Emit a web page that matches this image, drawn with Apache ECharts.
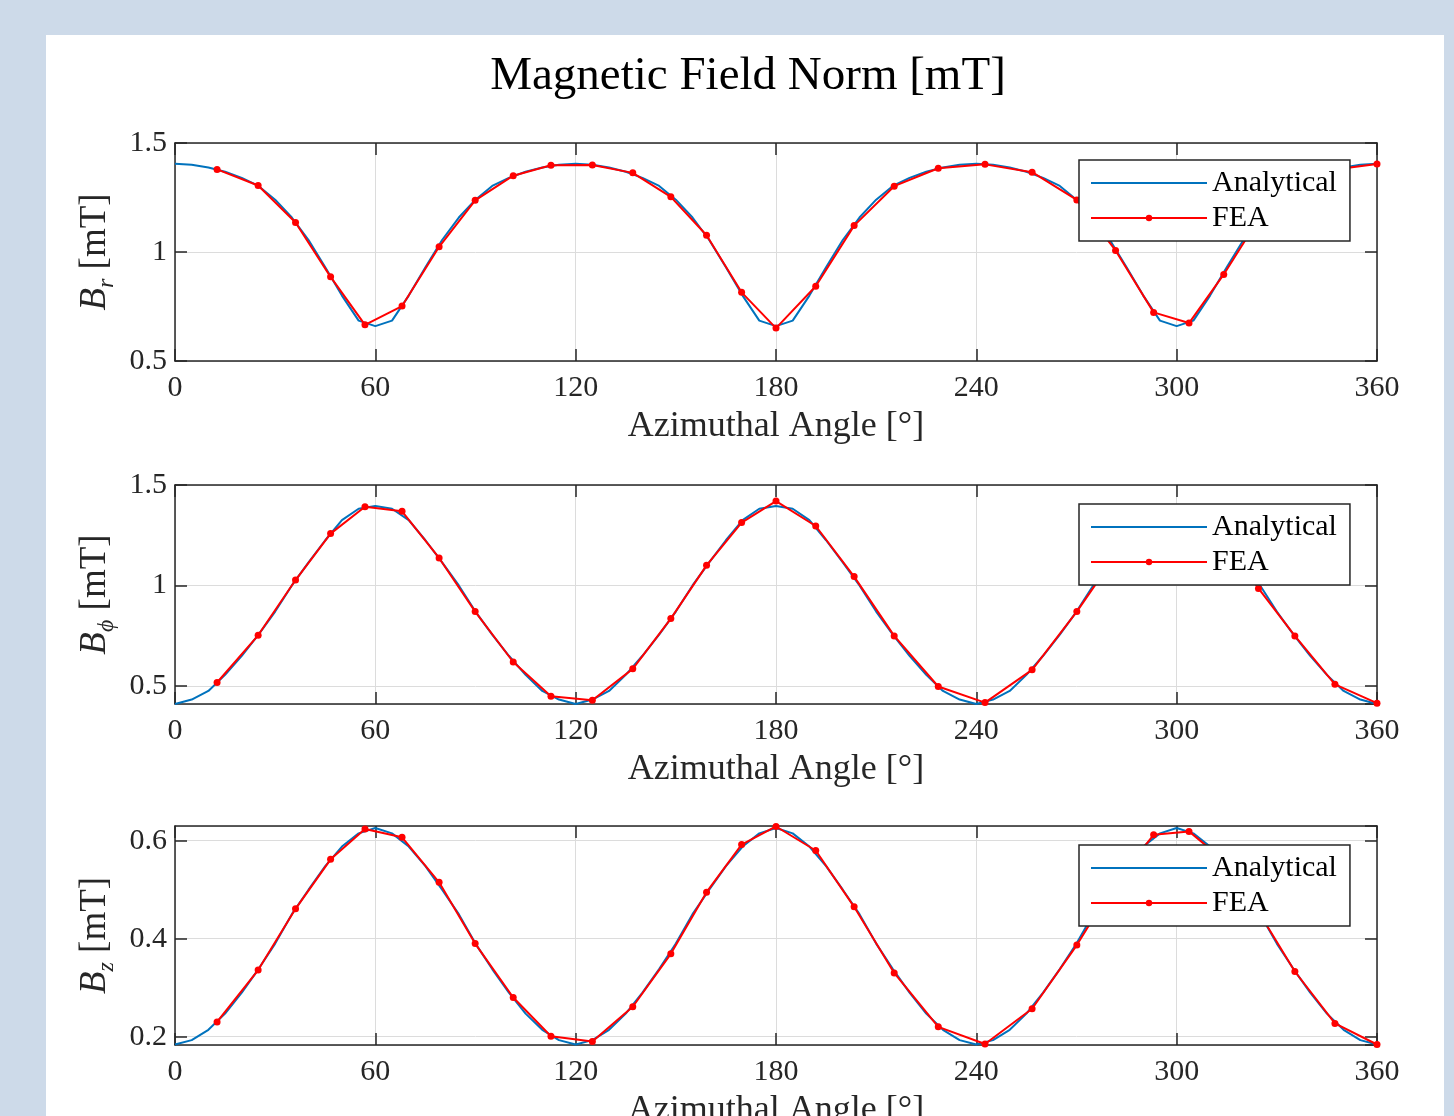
<!DOCTYPE html>
<html>
<head>
<meta charset="utf-8">
<title>Magnetic Field Norm</title>
<script src="https://cdn.jsdelivr.net/npm/echarts@6/dist/echarts.min.js"></script>
<style>
html, body { margin: 0; padding: 0; background: #cddae9; overflow: hidden; }
#panel { position: absolute; left: 46px; top: 35px; width: 1398px; height: 1081px; background: #fff; }
#chart { position: absolute; left: 0; top: 0; width: 1454px; height: 1116px; }
</style>
</head>
<body>
<div id="panel"></div>
<div id="chart"></div>
<script>
'use strict';

// analytical solution, every 5 degrees
const angleAnalytical = [
    0, 5, 10, 15, 20, 25, 30, 35, 40, 45, 50, 55, 60, 65, 70, 75, 80, 85, 90, 95, 100, 105, 110, 115, 120,
    125, 130, 135, 140, 145, 150, 155, 160, 165, 170, 175, 180, 185, 190, 195, 200, 205, 210, 215, 220, 225, 230, 235, 240,
    245, 250, 255, 260, 265, 270, 275, 280, 285, 290, 295, 300, 305, 310, 315, 320, 325, 330, 335, 340, 345, 350, 355, 360
];
const brAnalytical = [
    1.405, 1.400, 1.388, 1.368, 1.340, 1.303, 1.240, 1.158, 1.055, 0.930, 0.800, 0.685, 0.660, 0.685, 0.800, 0.930, 1.055, 1.158, 1.240, 1.303, 1.340, 1.368, 1.388, 1.400, 1.405,
    1.400, 1.388, 1.368, 1.340, 1.303, 1.240, 1.158, 1.055, 0.930, 0.800, 0.685, 0.660, 0.685, 0.800, 0.930, 1.055, 1.158, 1.240, 1.303, 1.340, 1.368, 1.388, 1.400, 1.405,
    1.400, 1.388, 1.368, 1.340, 1.303, 1.240, 1.158, 1.055, 0.930, 0.800, 0.685, 0.660, 0.685, 0.800, 0.930, 1.055, 1.158, 1.240, 1.303, 1.340, 1.368, 1.388, 1.400, 1.405
];
const bphiAnalytical = [
    0.410, 0.432, 0.475, 0.555, 0.650, 0.755, 0.870, 1.000, 1.115, 1.225, 1.325, 1.382, 1.396, 1.382, 1.325, 1.225, 1.115, 1.000, 0.870, 0.755, 0.650, 0.555, 0.475, 0.432, 0.410,
    0.432, 0.475, 0.555, 0.650, 0.755, 0.870, 1.000, 1.115, 1.225, 1.325, 1.382, 1.396, 1.382, 1.325, 1.225, 1.115, 1.000, 0.870, 0.755, 0.650, 0.555, 0.475, 0.432, 0.410,
    0.432, 0.475, 0.555, 0.650, 0.755, 0.870, 1.000, 1.115, 1.225, 1.325, 1.382, 1.396, 1.382, 1.325, 1.225, 1.115, 1.000, 0.870, 0.755, 0.650, 0.555, 0.475, 0.432, 0.410
];
const bzAnalytical = [
    0.184, 0.193, 0.214, 0.247, 0.290, 0.338, 0.390, 0.450, 0.500, 0.548, 0.588, 0.615, 0.626, 0.615, 0.588, 0.548, 0.500, 0.450, 0.390, 0.338, 0.290, 0.247, 0.214, 0.193, 0.184,
    0.193, 0.214, 0.247, 0.290, 0.338, 0.390, 0.450, 0.500, 0.548, 0.588, 0.615, 0.626, 0.615, 0.588, 0.548, 0.500, 0.450, 0.390, 0.338, 0.290, 0.247, 0.214, 0.193, 0.184,
    0.193, 0.214, 0.247, 0.290, 0.338, 0.390, 0.450, 0.500, 0.548, 0.588, 0.615, 0.626, 0.615, 0.588, 0.548, 0.500, 0.450, 0.390, 0.338, 0.290, 0.247, 0.214, 0.193, 0.184
];

// FEA nodes (not evenly spaced)
const angleFEA = [
    12.6, 24.9, 36.1, 46.6, 56.9, 68.0, 79.1, 89.9, 101.3, 112.6, 125.0, 137.1, 148.5, 159.2, 169.7, 180.0,
    191.9, 203.4, 215.4, 228.6, 242.6, 256.7, 270.1, 281.7, 293.1, 303.7, 314.1, 324.5, 335.4, 347.4, 360.0
];
const brFEA = [
    1.379, 1.305, 1.135, 0.886, 0.666, 0.752, 1.024, 1.237, 1.350, 1.398, 1.399, 1.363, 1.253, 1.077, 0.815, 0.651,
    0.843, 1.121, 1.302, 1.384, 1.402, 1.366, 1.239, 1.007, 0.723, 0.674, 0.897, 1.150, 1.310, 1.378, 1.404
];
const bphiFEA = [
    0.517, 0.752, 1.027, 1.258, 1.392, 1.369, 1.137, 0.870, 0.619, 0.449, 0.429, 0.585, 0.835, 1.100, 1.313, 1.420,
    1.296, 1.044, 0.749, 0.497, 0.417, 0.580, 0.870, 1.150, 1.360, 1.385, 1.240, 0.985, 0.749, 0.508, 0.414
];
const bzFEA = [
    0.230, 0.336, 0.461, 0.562, 0.624, 0.607, 0.515, 0.390, 0.280, 0.201, 0.190, 0.261, 0.369, 0.495, 0.592, 0.629,
    0.580, 0.465, 0.330, 0.220, 0.185, 0.257, 0.387, 0.515, 0.612, 0.619, 0.560, 0.455, 0.333, 0.227, 0.184
];

const xTicks = [0, 60, 120, 180, 240, 300, 360];

const FONT = 'Liberation Serif';
const INK = '#262626';

const panels = [
    {top: 143, height: 218, min: 0.5, max: 1.5, sub: 'r', analytical: brAnalytical, fea: brFEA, showMin: true, showMax: true},
    {top: 485, height: 219, min: 0.41, max: 1.5, sub: 'ϕ', analytical: bphiAnalytical, fea: bphiFEA, showMin: false, showMax: true},
    {top: 826, height: 219, min: 0.183, max: 0.630, sub: 'z', analytical: bzAnalytical, fea: bzFEA, showMin: false, showMax: false}
];
const legendTops = [160, 504, 845];

function pairs(xs, ys) {
    return xs.map((x, i) => [x, ys[i]]);
}

const frameLine = {show: true, onZero: false, lineStyle: {color: INK, width: 1.5}};
const frameTick = {show: true, inside: true, length: 12, lineStyle: {color: INK, width: 1.5}};
const gridLine = {show: true, lineStyle: {color: '#dcdcdc', width: 1}};

const grid = [], xAxis = [], yAxis = [], series = [], legend = [];

panels.forEach((p, i) => {
    grid.push({left: 175, top: p.top, width: 1202, height: p.height, outerBoundsMode: 'none'});

    xAxis.push({
        gridIndex: i, type: 'value', min: xTicks[0], max: xTicks[xTicks.length - 1], interval: xTicks[1] - xTicks[0],
        name: 'Azimuthal Angle [°]', nameLocation: 'middle', nameGap: 48,
        nameTextStyle: {fontFamily: FONT, fontSize: 36, color: INK},
        axisLine: frameLine, axisTick: frameTick, splitLine: gridLine,
        axisLabel: {margin: 12, fontFamily: FONT, fontSize: 30, color: INK}
    });
    xAxis.push({
        gridIndex: i, type: 'value', position: 'top', min: xTicks[0], max: xTicks[xTicks.length - 1], interval: xTicks[1] - xTicks[0],
        axisLine: frameLine, axisTick: frameTick, splitLine: {show: false}, axisLabel: {show: false}
    });

    yAxis.push({
        gridIndex: i, type: 'value', min: p.min, max: p.max, splitNumber: 2,
        name: '{b|B}{s|' + p.sub + '} [mT]', nameLocation: 'middle', nameGap: 54,
        nameTextStyle: {
            fontFamily: FONT, fontSize: 37, color: INK, lineHeight: 46,
            rich: {
                b: {fontFamily: FONT, fontSize: 37, fontStyle: 'italic', color: INK, lineHeight: 46},
                s: {fontFamily: FONT, fontSize: 24, fontStyle: 'italic', color: INK, lineHeight: 46, verticalAlign: 'bottom'}
            }
        },
        axisLine: frameLine, axisTick: frameTick, splitLine: gridLine,
        axisLabel: {margin: 8, fontFamily: FONT, fontSize: 30, color: INK, showMinLabel: p.showMin, showMaxLabel: p.showMax}
    });
    yAxis.push({
        gridIndex: i, type: 'value', position: 'right', min: p.min, max: p.max, splitNumber: 2,
        axisLine: frameLine, axisTick: frameTick, splitLine: {show: false}, axisLabel: {show: false}
    });

    series.push({
        type: 'line', name: 'Analytical', xAxisIndex: 2 * i, yAxisIndex: 2 * i,
        data: pairs(angleAnalytical, p.analytical),
        symbol: 'none', lineStyle: {color: '#0072bd', width: 2}, itemStyle: {color: '#0072bd'},
        z: 2, animation: false
    });
    series.push({
        type: 'line', name: 'FEA', xAxisIndex: 2 * i, yAxisIndex: 2 * i,
        data: pairs(angleFEA, p.fea),
        symbol: 'circle', symbolSize: 7, showAllSymbol: true,
        lineStyle: {color: '#ff0000', width: 2}, itemStyle: {color: '#ff0000'},
        z: 3, animation: false
    });

    legend.push({
        data: [{name: 'Analytical', itemStyle: {opacity: 0}}, {name: 'FEA'}],
        orient: 'vertical', left: 1079, top: legendTops[i],
        padding: [8, 13, 8, 11], itemWidth: 116, itemHeight: 8, itemGap: 5,
        backgroundColor: '#fff', borderColor: INK, borderWidth: 1.5, borderRadius: 0,
        textStyle: {fontFamily: FONT, fontSize: 30, color: '#000'},
        selectedMode: false, z: 10
    });
});

const chart = echarts.init(document.getElementById('chart'), null, {renderer: 'canvas'});
chart.setOption({
    animation: false,
    backgroundColor: 'transparent',
    graphic: [{
        type: 'text', x: 748, y: 77,
        style: {text: 'Magnetic Field Norm [mT]', fontFamily: FONT, fontSize: 47, fill: '#000', align: 'center', verticalAlign: 'middle'}
    }],
    grid, xAxis, yAxis, legend, series
});
</script>
</body>
</html>
